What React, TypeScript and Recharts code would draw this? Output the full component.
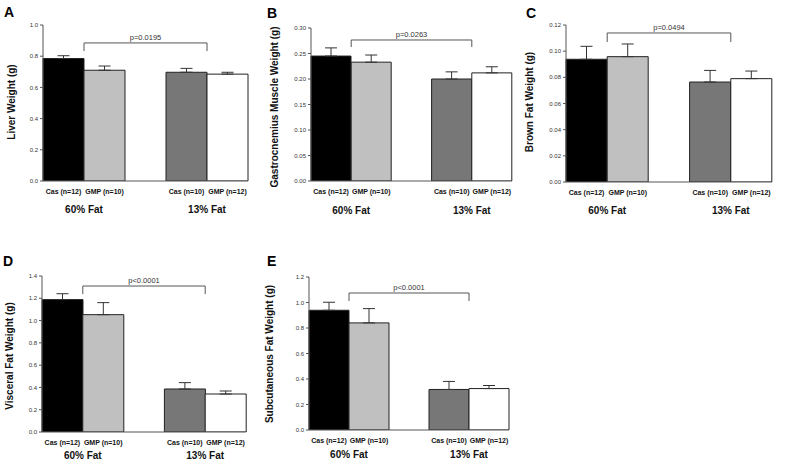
import React from 'react';
import { BarChart, Bar, Cell, XAxis, YAxis, ErrorBar, ReferenceLine, Label } from 'recharts';

// bar order: 60% Fat pair, empty gap slot, 13% Fat pair
const categories = ['Cas (n=12)', 'GMP (n=10)', '', 'Cas (n=10)', 'GMP (n=12)'];
const groupLabels = ['60% Fat', '', '', '13% Fat', ''];
const barFills = ['#000000', '#c0c0c0', 'none', '#777777', '#ffffff'];

const liverMean = [0.785, 0.71, 0.697, 0.685];
const liverErr = [0.018, 0.027, 0.025, 0.012];
const liverTicks = [0, 0.2, 0.4, 0.6, 0.8, 1.0];
const liverBracket = [0.885, 0.833];

const gastroMean = [0.245, 0.233, 0.2, 0.212];
const gastroErr = [0.016, 0.014, 0.014, 0.012];
const gastroTicks = [0, 0.05, 0.1, 0.15, 0.2, 0.25, 0.3];
const gastroBracket = [0.2765, 0.2627];

const brownMean = [0.0938, 0.0958, 0.0764, 0.079];
const brownErr = [0.0099, 0.0097, 0.0089, 0.0058];
const brownTicks = [0, 0.02, 0.04, 0.06, 0.08, 0.1, 0.12];
const brownBracket = [0.1139, 0.107];

const visceralMean = [1.188, 1.053, 0.386, 0.341];
const visceralErr = [0.053, 0.108, 0.057, 0.027];
const visceralTicks = [0, 0.2, 0.4, 0.6, 0.8, 1.0, 1.2, 1.4];
const visceralBracket = [1.31, 1.238];

const subcutMean = [0.939, 0.84, 0.318, 0.325];
const subcutErr = [0.063, 0.112, 0.063, 0.024];
const subcutTicks = [0, 0.2, 0.4, 0.6, 0.8, 1.0, 1.2];
const subcutBracket = [1.0745, 1.012];

const withGap = (v: number[]) => [v[0], v[1], null, v[2], v[3]];

const panels = [
  {
    letter: 'A', ylabel: 'Liver Weight (g)', mean: liverMean, err: liverErr, ticks: liverTicks,
    bracket: liverBracket, p: 'p=0.0195', digits: 1,
    left: 0, top: 0, width: 262, height: 222,
    margin: { top: 25, right: 14, bottom: 11, left: 18 },
    letterPos: [4, 5], ylabelPos: [12, 102], groupDy: 24,
  },
  {
    letter: 'B', ylabel: 'Gastrocnemius Muscle Weight (g)', mean: gastroMean, err: gastroErr, ticks: gastroTicks,
    bracket: gastroBracket, p: 'p=0.0263', digits: 2,
    left: 262, top: 0, width: 262, height: 222,
    margin: { top: 28, right: 12, bottom: 11, left: 24 },
    letterPos: [5, 6], ylabelPos: [13, 107], groupDy: 25,
  },
  {
    letter: 'C', ylabel: 'Brown Fat Weight (g)', mean: brownMean, err: brownErr, ticks: brownTicks,
    bracket: brownBracket, p: 'p=0.0494', digits: 2,
    left: 524, top: 0, width: 262, height: 222,
    margin: { top: 25, right: 14, bottom: 10, left: 17 },
    letterPos: [2, 6], ylabelPos: [6, 102], groupDy: 24,
  },
  {
    letter: 'D', ylabel: 'Visceral Fat Weight (g)', mean: visceralMean, err: visceralErr, ticks: visceralTicks,
    bracket: visceralBracket, p: 'p<0.0001', digits: 1,
    left: 0, top: 225, width: 262, height: 239,
    margin: { top: 51, right: 16, bottom: 2, left: 17 },
    letterPos: [3, 29], ylabelPos: [10, 131], groupDy: 19,
  },
  {
    letter: 'E', ylabel: 'Subcutaneous Fat Weight (g)', mean: subcutMean, err: subcutErr, ticks: subcutTicks,
    bracket: subcutBracket, p: 'p<0.0001', digits: 1,
    left: 262, top: 225, width: 262, height: 239,
    margin: { top: 52, right: 15, bottom: 4, left: 22 },
    letterPos: [5, 29], ylabelPos: [8, 129], groupDy: 20,
  },
];

const makeTick = (groupDy: number) => (props: any) => {
  const { x, y, payload, index } = props;
  const grp = groupLabels[index];
  const half = payload && payload.offset ? payload.offset : 20;
  return (
    <g>
      {payload.value ? (
        <text x={x} y={y + 5} textAnchor="middle" fontSize={7} fontWeight="bold" fill="#111">
          {payload.value}
        </text>
      ) : null}
      {grp ? (
        <text x={x + half} y={y + groupDy} textAnchor="middle" fontSize={10} fontWeight="bold" fill="#111">
          {grp}
        </text>
      ) : null}
    </g>
  );
};

const Panel = ({ cfg }: { cfg: (typeof panels)[number] }) => {
  const means = withGap(cfg.mean);
  const errs = withGap(cfg.err);
  const data = categories.map((name, i) => ({
    name,
    value: means[i],
    err: errs[i] == null ? undefined : [0, errs[i]],
  }));
  const max = cfg.ticks[cfg.ticks.length - 1];
  const [bTop, bLow] = cfg.bracket;
  const from = categories[1];
  const to = categories[4];
  return (
    <div style={{ position: 'absolute', left: cfg.left, top: cfg.top, width: cfg.width, height: cfg.height }}>
      <div style={{ position: 'absolute', left: cfg.letterPos[0], top: cfg.letterPos[1], fontSize: 14, fontWeight: 'bold', lineHeight: 1 }}>
        {cfg.letter}
      </div>
      <div
        style={{
          position: 'absolute', left: cfg.ylabelPos[0], top: cfg.ylabelPos[1],
          transform: 'translate(-50%, -50%) rotate(-90deg)', whiteSpace: 'nowrap',
          fontSize: 10, fontWeight: 'bold', color: '#111', lineHeight: 1,
        }}
      >
        {cfg.ylabel}
      </div>
      <BarChart width={cfg.width} height={cfg.height} data={data} margin={cfg.margin} barCategoryGap={0}>
        <XAxis dataKey="name" height={30} interval={0} tickLine={false} stroke="#555" tick={makeTick(cfg.groupDy)} />
        <YAxis
          width={25}
          domain={[0, max]}
          ticks={cfg.ticks}
          allowDataOverflow
          stroke="#555"
          tickSize={3}
          tickMargin={2}
          tick={{ fontSize: 6, fill: '#333' }}
          tickFormatter={(v: number) => v.toFixed(cfg.digits)}
        />
        <Bar dataKey="value" stroke="#222" strokeWidth={1} isAnimationActive={false}>
          {data.map((d, i) => (
            <Cell key={d.name + i} fill={barFills[i]} />
          ))}
          <ErrorBar dataKey="err" width={6} stroke="#333" strokeWidth={1} />
        </Bar>
        <ReferenceLine
          segment={[{ x: from, y: bTop }, { x: to, y: bTop }]}
          position="start"
          stroke="#555"
          strokeWidth={1}
        >
          <Label value={cfg.p} position="top" offset={3} fontSize={7.5} fill="#333" />
        </ReferenceLine>
        <ReferenceLine segment={[{ x: from, y: bTop }, { x: from, y: bLow }]} position="start" stroke="#555" strokeWidth={1} />
        <ReferenceLine segment={[{ x: to, y: bTop }, { x: to, y: bLow }]} position="start" stroke="#555" strokeWidth={1} />
      </BarChart>
    </div>
  );
};

export default function App() {
  return (
    <div
      style={{
        position: 'absolute', left: 0, top: 0, width: 786, height: 464,
        background: '#fff', fontFamily: '"Liberation Sans", Arial, sans-serif',
      }}
    >
      {panels.map((cfg) => (
        <Panel key={cfg.letter} cfg={cfg} />
      ))}
    </div>
  );
}
